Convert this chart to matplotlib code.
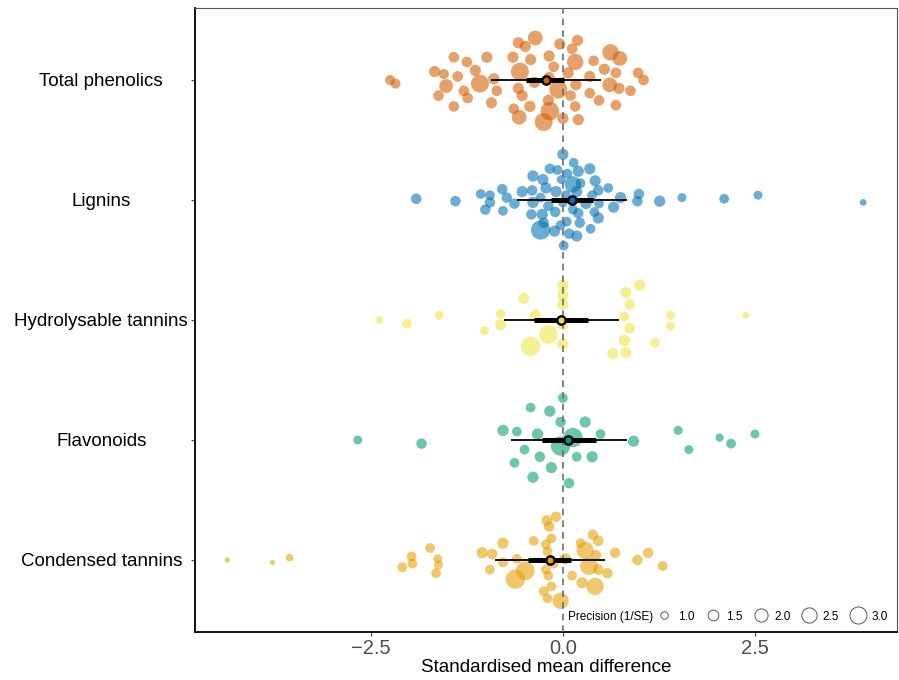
import numpy as np
import matplotlib

matplotlib.use("Agg")
import matplotlib.pyplot as plt
from matplotlib.lines import Line2D

plt.rcParams["font.family"] = ["Liberation Sans", "DejaVu Sans"]

# moderators, top to bottom
groups = ["Total phenolics", "Lignins", "Hydrolysable tannins", "Flavonoids", "Condensed tannins"]
colors = ["#D55E00", "#0072B2", "#F0E442", "#009E73", "#E69F00"]

# effect sizes (SMD), vertical jitter (in group units) and precision (1/SE)
tp_smd = [-2.25, -2.18, -1.67, -1.55, -1.42, -1.25, -0.99, -1.14, -1.37, -1.52, -1.08, -0.90,
          -1.62, -1.29, -1.24, -0.86, -1.42, -0.93, -0.58, -0.49, -0.36, -0.65, -0.42, -0.56,
          -0.18, -0.12, -0.04, 0.19, 0.12, 0.16, 0.07, -0.18, -0.37, -0.06, 0.17, -0.58,
          -0.53, -0.19, -0.17, -0.25, -0.43, -0.64, -0.57, 0.10, 0.16, 0.00, 0.20, 0.62,
          0.74, 0.40, 0.54, 0.35, 0.69, 0.61, 0.73, 0.35, 0.47, 0.69, 0.88, 0.98, 1.05]
tp_jit = [0.00, -0.03, 0.07, 0.05, 0.19, 0.15, 0.19, 0.08, 0.03, -0.05, -0.03, 0.01,
          -0.13, -0.09, -0.15, -0.09, -0.22, -0.19, 0.31, 0.28, 0.35, 0.19, 0.17, 0.07,
          0.20, 0.11, 0.30, 0.33, 0.26, 0.15, 0.06, 0.02, -0.02, -0.08, -0.04, -0.07,
          -0.13, -0.17, -0.26, -0.35, -0.22, -0.24, -0.31, -0.13, -0.22, -0.32, -0.33, 0.23,
          0.18, 0.16, 0.09, 0.03, 0.06, -0.04, -0.07, -0.11, -0.17, -0.21, -0.09, 0.06, 0.00]
tp_prec = [1.3, 1.3, 1.5, 1.3, 1.4, 1.4, 1.5, 1.5, 1.4, 2.0, 3.0, 1.5,
           1.4, 1.4, 1.4, 1.4, 1.4, 1.5, 1.5, 1.5, 2.2, 1.5, 1.5, 3.0,
           1.5, 1.4, 1.5, 1.5, 1.4, 2.6, 1.5, 1.5, 1.5, 3.0, 1.5, 1.5,
           1.5, 1.5, 3.2, 3.0, 1.5, 1.4, 2.2, 1.4, 1.4, 1.5, 1.5, 2.6,
           2.2, 1.4, 1.5, 1.5, 1.4, 2.2, 1.5, 1.4, 1.4, 1.4, 1.4, 1.4, 1.4]

lig_smd = [-1.91, -1.40, -1.07, -0.95, -0.95, -1.01, -0.79, -0.73, -0.63, -0.78, -0.53, -0.40,
           -0.39, -0.26, -0.22, -0.09, -0.17, -0.07, 0.00, 0.14, 0.06, 0.20, 0.35, -0.02,
           0.13, 0.23, 0.18, 0.42, 0.46, 0.59, 0.38, 0.04, -0.29, -0.39, -0.19, 0.00,
           0.30, 0.47, 0.75, 0.66, 0.99, 0.97, 1.26, 1.55, 2.10, 2.54, 3.91, -0.41,
           -0.27, -0.10, 0.13, 0.20, 0.41, 0.46, -0.29, -0.25, -0.11, -0.03, 0.05, 0.22,
           0.36, 0.08, 0.18, 0.01]
lig_jit = [0.01, -0.01, 0.05, 0.04, -0.02, -0.08, 0.09, 0.02, -0.03, -0.09, 0.07, 0.08,
           0.20, 0.17, 0.10, 0.07, 0.26, 0.25, 0.38, 0.31, 0.22, 0.24, 0.26, 0.17,
           0.13, 0.14, 0.07, 0.16, 0.08, 0.10, 0.04, 0.04, 0.02, -0.02, -0.05, -0.02,
           -0.03, -0.03, 0.02, -0.06, 0.05, -0.01, -0.01, 0.02, 0.01, 0.04, -0.02, -0.12,
           -0.12, -0.10, -0.08, -0.11, -0.10, -0.15, -0.25, -0.19, -0.26, -0.21, -0.18, -0.19,
           -0.24, -0.28, -0.30, -0.38]
lig_prec = [1.37, 1.37, 1.26, 1.26, 1.37, 1.37, 1.37, 1.37, 1.37, 1.26, 1.5, 1.37,
            1.5, 1.5, 1.5, 1.5, 1.37, 1.26, 1.5, 1.26, 1.26, 1.5, 1.5, 1.15,
            2.6, 1.26, 1.5, 1.5, 1.37, 1.26, 1.26, 1.26, 1.26, 1.5, 1.37, 1.26,
            1.5, 1.26, 1.5, 1.5, 1.37, 1.37, 1.5, 1.15, 1.26, 1.15, 0.88, 1.37,
            1.5, 1.37, 1.26, 1.37, 1.26, 1.5, 3.4, 1.37, 1.5, 1.26, 1.26, 1.37,
            1.26, 1.37, 1.5, 1.26]

hyd_smd = [-2.39, -2.03, -1.61, -1.02, -0.81, -0.81, -0.51, -0.36, -0.19, -0.42, 0.00, 0.00,
           0.00, 0.00, 0.00, 0.82, 1.00, 0.87, 0.80, 0.87, 0.80, 0.82, 0.65, 1.20,
           1.40, 1.40, 2.38]
hyd_jit = [0.00, -0.03, 0.04, -0.09, 0.05, -0.04, 0.18, 0.04, -0.12, -0.22, 0.29, 0.21,
           0.13, -0.04, -0.20, 0.23, 0.29, 0.13, 0.03, -0.07, -0.17, -0.27, -0.28, -0.19,
           0.04, -0.05, 0.04]
hyd_prec = [0.96, 1.26, 1.15, 1.15, 1.26, 1.5, 1.5, 1.5, 3.2, 3.4, 1.5, 1.5,
            1.5, 1.5, 1.5, 1.5, 1.5, 1.37, 1.26, 1.37, 1.5, 1.5, 1.5, 1.26,
            1.15, 1.15, 0.9]

fla_smd = [-2.67, -1.84, -0.78, -0.60, -0.42, -0.17, 0.00, -0.03, 0.29, -0.33, 0.13, -0.03,
           0.49, 0.92, -0.50, -0.63, -0.30, 0.18, 0.38, -0.15, -0.39, 0.08, 1.50, 1.64,
           2.04, 2.19, 2.50]
fla_jit = [0.00, -0.03, 0.08, 0.07, 0.27, 0.24, 0.35, 0.15, 0.15, 0.05, 0.02, -0.05,
           0.05, -0.01, -0.08, -0.19, -0.14, -0.14, -0.14, -0.23, -0.31, -0.36, 0.08, -0.08,
           0.02, -0.03, 0.05]
fla_prec = [1.15, 1.37, 1.5, 1.26, 1.26, 1.5, 1.26, 1.37, 1.5, 1.5, 3.4, 3.4,
            1.26, 1.5, 1.26, 1.26, 1.37, 1.26, 1.5, 1.5, 1.5, 1.37, 1.15, 1.15,
            1.05, 1.26, 1.15]

con_smd = [-4.37, -3.78, -3.56, -1.97, -1.96, -2.09, -1.73, -1.63, -1.62, -1.65, -1.05, -0.92,
           -0.78, -0.60, -0.78, -0.95, -0.49, -0.62, -0.38, -0.21, -0.09, -0.18, -0.15, -0.22,
           -0.20, -0.12, 0.03, -0.22, -0.19, -0.15, -0.25, -0.20, -0.03, 0.12, 0.23, 0.39,
           0.46, 0.29, 0.43, 0.34, 0.46, 0.58, 0.25, 0.42, 0.68, 0.97, 1.11, 1.30]
con_jit = [0.00, -0.02, 0.02, 0.03, -0.03, -0.06, 0.10, 0.01, -0.04, -0.11, 0.06, 0.05,
           0.14, 0.01, -0.02, -0.08, -0.09, -0.16, 0.16, 0.33, 0.36, 0.28, 0.18, 0.13,
           0.07, -0.03, 0.01, -0.08, -0.13, -0.22, -0.26, -0.32, -0.34, -0.13, 0.14, 0.21,
           0.16, 0.08, 0.04, -0.05, -0.08, -0.11, -0.19, -0.22, 0.06, 0.00, 0.06, -0.05]
con_prec = [0.74, 0.74, 0.96, 1.26, 1.26, 1.26, 1.26, 1.15, 1.15, 1.26, 1.5, 1.37,
            1.5, 1.26, 1.26, 1.26, 3.2, 3.4, 1.26, 1.37, 1.37, 1.37, 1.26, 1.26,
            1.26, 1.26, 1.5, 1.26, 1.26, 1.26, 1.26, 1.26, 2.6, 1.26, 1.26, 1.37,
            1.37, 2.8, 1.37, 3.0, 1.37, 1.37, 1.5, 2.8, 1.37, 1.37, 1.37, 1.26]

# model estimates: mean, 95% CI, 95% PI
est = [-0.22, 0.12, -0.03, 0.07, -0.17]
ci_lo = [-0.48, -0.16, -0.37, -0.27, -0.45]
ci_hi = [0.01, 0.39, 0.33, 0.43, 0.10]
pi_lo = [-0.93, -0.60, -0.77, -0.67, -0.89]
pi_hi = [0.49, 0.84, 0.73, 0.83, 0.55]

legend_prec = [1.0, 1.5, 2.0, 2.5, 3.0]

PX = 72 / 100  # points per pixel at 100 dpi


def diam_pt(p):
    p = np.asarray(p, dtype=float)
    return 1.12 * np.sqrt(np.maximum(104 * p - 55, 12)) * PX


fig = plt.figure(figsize=(8.99, 6.8), dpi=100)
ax = fig.add_axes([195 / 899, 48 / 680, 702 / 899, 624 / 680])

data = [(tp_smd, tp_jit, tp_prec), (lig_smd, lig_jit, lig_prec), (hyd_smd, hyd_jit, hyd_prec),
        (fla_smd, fla_jit, fla_prec), (con_smd, con_jit, con_prec)]
ypos = [5, 4, 3, 2, 1]

for (smd, jit, prec), y0, col in zip(data, ypos, colors):
    ax.scatter(smd, y0 + np.asarray(jit), s=diam_pt(prec) ** 2, color=col,
               alpha=0.58, linewidths=0, zorder=2)

ax.axvline(0, color="#6e6e6e", ls=(0, (4, 3)), lw=1.2, zorder=3)

for i, y0 in enumerate(ypos):
    ax.plot([pi_lo[i], pi_hi[i]], [y0, y0], color="black", lw=1.3, zorder=4,
            solid_capstyle="butt")
    ax.plot([ci_lo[i], ci_hi[i]], [y0, y0], color="black", lw=3.6, zorder=5,
            solid_capstyle="butt")
    ax.plot(est[i], y0, "o", ms=6, mfc=colors[i], mec="black", mew=1.7, zorder=6)

ax.set_xlim(-4.79, 4.35)
ax.set_ylim(0.4, 5.6)
ax.set_xticks([-2.5, 0.0, 2.5])
ax.set_xticklabels(["\u22122.5", "0.0", "2.5"], fontsize=14.5, color="#4d4d4d")
ax.set_yticks(ypos)
ax.set_yticklabels(groups, fontsize=13.5, color="black")
for lab in ax.get_yticklabels():
    lab.set_horizontalalignment("center")
ax.tick_params(axis="both", length=3, width=0.8, color="#444444")
ax.tick_params(axis="y", pad=64.5)
ax.tick_params(axis="x", pad=2)
ax.set_xlabel("Standardised mean difference", fontsize=13.6, labelpad=1)

for side in ["left", "bottom"]:
    ax.spines[side].set_linewidth(1.3)
    ax.spines[side].set_color("black")
for side in ["top", "right"]:
    ax.spines[side].set_linewidth(0.8)
    ax.spines[side].set_color("#555555")

handles = [Line2D([], [], ls="", marker="o", ms=d, mfc="none", mec="#555555", mew=0.7)
           for d in diam_pt(legend_prec) * 0.95]
leg = ax.legend(handles, [f"{p:.1f}" for p in legend_prec], ncol=5, frameon=False,
                loc="lower right", bbox_to_anchor=(1.0, 0.0), fontsize=8.5,
                handletextpad=0.5, columnspacing=0.9, handlelength=1.3,
                borderaxespad=0.4)
fig.canvas.draw()
bb = leg.get_window_extent().transformed(ax.transAxes.inverted())
ax.text(bb.x0 + 0.002, (bb.y0 + bb.y1) / 2, "Precision (1/SE)", transform=ax.transAxes,
        ha="right", va="center", fontsize=8.5)

fig.savefig("out.png", dpi=100, facecolor="white")
